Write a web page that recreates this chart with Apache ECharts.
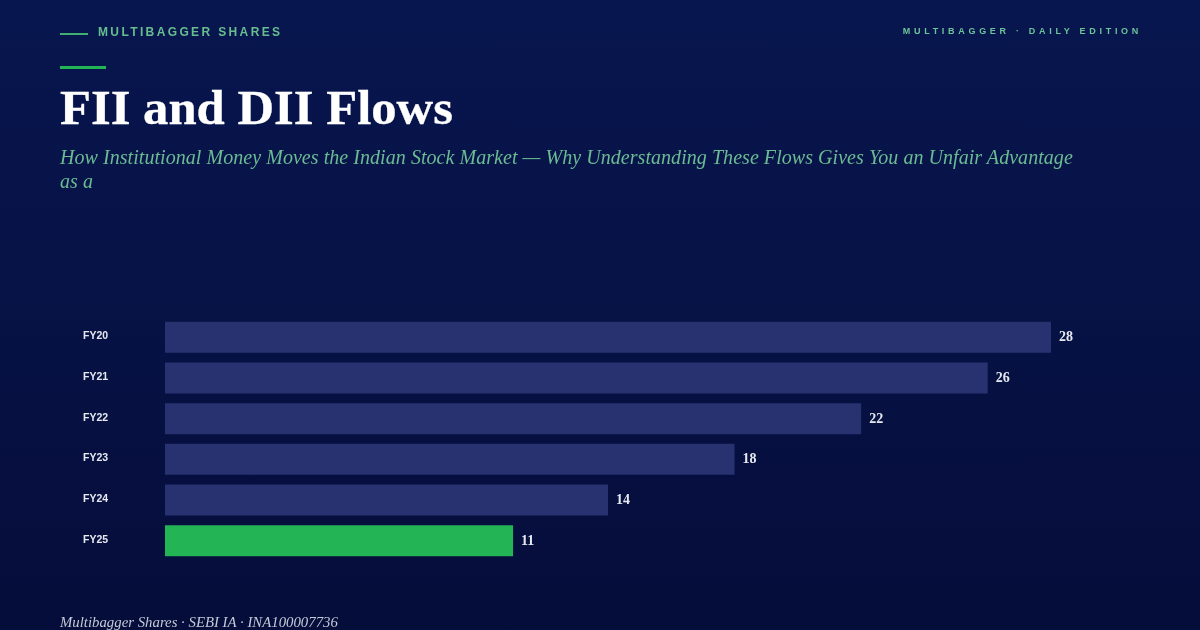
<!doctype html>
<html lang="en">
<head>
<meta charset="UTF-8">
<title>FII and DII Flows</title>
<script src="https://cdn.jsdelivr.net/npm/echarts@6/dist/echarts.min.js"></script>
<style>
    html, body { margin: 0; padding: 0; }
    body { width: 1200px; height: 630px; overflow: hidden; position: relative;
           background: linear-gradient(180deg, #08164f 0%, #050d3a 100%); }
    .abs { position: absolute; white-space: nowrap; }
    .brand { left: 98px; top: 25px; font: bold 12px/15px "Liberation Sans", sans-serif; letter-spacing: 2.37px; color: #66bd90; }
    .brandline { left: 60px; top: 33px; width: 28px; height: 2px; background: #3fae70; }
    .edition { right: 58px; top: 25px; font: bold 9px/12px "Liberation Sans", sans-serif; letter-spacing: 3.7px; color: #6cc49a; }
    .rule { left: 60px; top: 66px; width: 46px; height: 3px; background: #22b455; }
    h1 { left: 60px; top: 80px; margin: 0; font: bold 48px/56px "Liberation Serif", serif; color: #fff;
         transform: scaleX(1.056); transform-origin: left center; -webkit-text-stroke: 0.3px #fff; }
    .sub { left: 60px; top: 145px; width: 1020px; white-space: normal; font: italic 20px/24px "Liberation Serif", serif; letter-spacing: 0.05px; color: #6bbb93; }
    .foot { left: 60px; top: 614px; font: italic 14px/18px "Liberation Serif", serif; color: #c4cad8;
            transform: scaleX(1.057); transform-origin: left center; }
    #main { position: absolute; left: 0; top: 0; width: 1200px; height: 630px; }
</style>
</head>
<body>
<div id="main"></div>
<div class="abs brandline"></div>
<div class="abs brand">MULTIBAGGER SHARES</div>
<div class="abs edition">MULTIBAGGER · DAILY EDITION</div>
<div class="abs rule"></div>
<h1 class="abs">FII and DII Flows</h1>
<div class="abs sub">How Institutional Money Moves the Indian Stock Market — Why Understanding These Flows Gives You an Unfair Advantage as a</div>
<div class="abs foot">Multibagger Shares · SEBI IA · INA100007736</div>
<script>
var categories = ['FY20', 'FY21', 'FY22', 'FY23', 'FY24', 'FY25'];
var values = [28, 26, 22, 18, 14, 11];
var barColors = ['#293270', '#293270', '#293270', '#293270', '#293270', '#22b455'];

var myChart = echarts.init(document.getElementById('main'));
var option = {
    backgroundColor: 'transparent',
    animation: false,
    grid: { left: 165, top: 317, width: 886, height: 244 },
    xAxis: { type: 'value', min: 0, max: 28, show: false },
    yAxis: {
        type: 'category',
        inverse: true,
        data: categories,
        axisLine: { show: false },
        axisTick: { show: false },
        axisLabel: {
            align: 'left',
            verticalAlign: 'bottom',
            lineHeight: 2,
            margin: 82,
            color: '#e6e9f0',
            fontFamily: 'Liberation Sans',
            fontWeight: 'bold',
            fontSize: 10.5
        }
    },
    series: [{
        type: 'bar',
        barWidth: 31,
        data: values.map(function (v, i) {
            return { value: v, itemStyle: { color: barColors[i] } };
        }),
        label: {
            show: true,
            position: 'right',
            distance: 8,
            offset: [0, 0.5],
            color: '#e6e9f0',
            fontFamily: 'Liberation Serif',
            fontWeight: 'bold',
            fontSize: 14
        }
    }]
};
myChart.setOption(option);
</script>
</body>
</html>
